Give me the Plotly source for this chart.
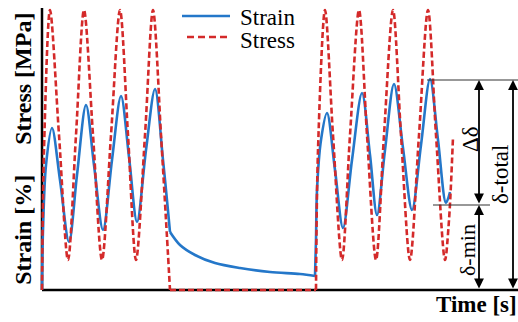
import plotly.graph_objects as go

# ---- data (time and value in arbitrary units) ----
# Stress: first loading block, hold at zero, second loading block
stress1_t = [0, 2, 8, 17, 26, 34, 42, 51, 60, 69, 78, 86, 94, 103, 111, 119, 124, 128]
stress1_v = [0, 140, 280, 155, 30, 155, 280, 155, 30, 155, 280, 155, 30, 155, 280, 155, 70, 0]
stress_hold_t = [128, 274]
stress_hold_v = [0, 0]
stress2_t = [274, 276, 283, 291, 300, 308, 317, 325, 334, 342, 351, 359, 368, 377, 386,
             394, 403, 407, 411]
stress2_v = [0, 140, 280, 155, 30, 155, 280, 155, 30, 155, 280, 155, 30, 155, 280,
             155, 30, 70, 153]

# Strain: first cyclic block, relaxation, second cyclic block
strain1_t = [0, 1, 4, 10, 18, 27, 35, 44, 52, 61, 70, 79, 87, 95, 104, 113, 121, 128]
strain1_v = [0, 60, 125, 162, 110, 48, 115, 185, 125, 60, 130, 194, 133, 68, 140, 201, 130, 58]
strain_relax_t = [128, 138, 153, 173, 198, 228, 258, 273]
strain_relax_v = [58, 45, 35, 27, 22, 18, 16, 14]
strain2_t = [273, 274, 275, 279, 285, 293, 301, 310, 320, 328, 335, 343, 352, 361, 370,
             379, 388, 396, 404, 408]
strain2_v = [14, 50, 100, 150, 177, 120, 62, 130, 197, 135, 75, 140, 206, 142, 80,
             145, 211, 150, 87, 98]

# Reference levels for the annotation (max strain, min strain of the last cycle)
level_max = 210
level_min = 85

SERIF = "Liberation Serif, Times New Roman, serif"
BLUE = "#2477c9"
RED = "#d42a2a"

fig = go.Figure()
for t, v, shape in [(strain1_t, strain1_v, "spline"),
                    (strain_relax_t, strain_relax_v, "spline"),
                    (strain2_t, strain2_v, "spline")]:
    fig.add_trace(go.Scatter(x=t, y=v, mode="lines", name="Strain", legendgroup="strain",
                             showlegend=False, hoverinfo="skip",
                             line=dict(color=BLUE, width=2.6, shape=shape, smoothing=0.9)))
for t, v, shape in [(stress1_t, stress1_v, "spline"),
                    (stress_hold_t, stress_hold_v, "linear"),
                    (stress2_t, stress2_v, "spline")]:
    fig.add_trace(go.Scatter(x=t, y=v, mode="lines", name="Stress", legendgroup="stress",
                             showlegend=False, hoverinfo="skip",
                             line=dict(color=RED, width=2.6, dash="6px,3px",
                                       shape=shape, smoothing=0.9)))

shapes = [
    # axes
    dict(type="line", x0=0, x1=476, y0=0, y1=0, line=dict(color="black", width=2.5), layer="below"),
    dict(type="line", x0=0, x1=0, y0=0, y1=282, line=dict(color="black", width=2.5), layer="below"),
    # reference lines
    dict(type="line", x0=385, x1=476, y0=level_max, y1=level_max, line=dict(color="#333", width=1.2)),
    dict(type="line", x0=391, x1=448, y0=level_min, y1=level_min, line=dict(color="#333", width=1.2)),
    # legend samples
    dict(type="line", x0=140, x1=188, y0=274, y1=274, line=dict(color=BLUE, width=2.6)),
    dict(type="line", x0=145, x1=188, y0=253, y1=253, line=dict(color=RED, width=2.6, dash="7px,4px")),
]

annotations = []
def darrow(x, y0, y1):
    annotations.append(dict(x=x, y=y1, ax=x, ay=y0, xref="x", yref="y", axref="x", ayref="y",
                            text="", showarrow=True, arrowhead=2, startarrowhead=2,
                            arrowside="end+start", arrowsize=1.1, arrowwidth=1.8,
                            arrowcolor="black"))

darrow(437, level_min, level_max)
darrow(437, 0, level_min)
darrow(471, 0, level_max)

def txt(x, y, s, size=23, bold=False, angle=0, ref="x", xanchor="center"):
    annotations.append(dict(x=x, y=y, xref=ref if ref == "x" else "paper",
                            yref="y" if ref == "x" else "paper",
                            text=("<b>%s</b>" % s) if bold else s,
                            showarrow=False, textangle=angle, xanchor=xanchor, yanchor="middle",
                            font=dict(family=SERIF, size=size, color="black")))

txt(428, 151, "Δδ", angle=-90)
txt(425, 40, "δ-min", size=22, angle=-90)
txt(458, 115, "δ-total", angle=-90)
txt(196, 273, "Strain", xanchor="left")
txt(196, 250, "Stress", xanchor="left")
txt(-0.036, 0.7465, "Stress [MPa]", size=24, bold=True, angle=-90, ref="paper")
txt(-0.036, 0.222, "Strain [%]", size=24, bold=True, angle=-90, ref="paper")
txt(1.003, -0.038, "Time [s]", size=23, bold=True, ref="paper", xanchor="right")

fig.update_layout(
    width=518, height=322,
    margin=dict(l=40, r=0, t=6, b=28),
    plot_bgcolor="white", paper_bgcolor="white",
    xaxis=dict(range=[-2, 476], showgrid=False, zeroline=False, showticklabels=False,
               showline=False, ticks=""),
    yaxis=dict(range=[-4, 284], showgrid=False, zeroline=False, showticklabels=False,
               showline=False, ticks=""),
    shapes=shapes, annotations=annotations,
    showlegend=False,
    hovermode=False,
)

fig.write_html("out.html", config={"displayModeBar": False, "staticPlot": True},
               post_script="document.body.style.margin='0px';")
